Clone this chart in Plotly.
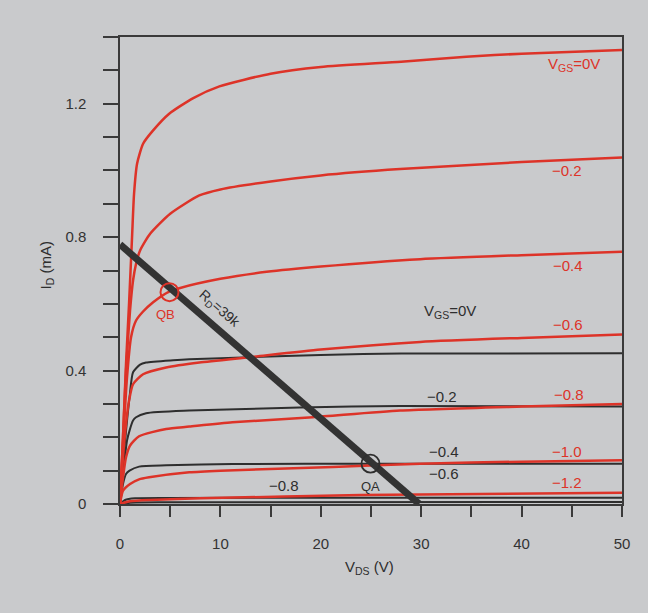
import plotly.graph_objects as go

# ---- data ----
red_0_v = [0, 0.3, 0.6, 0.9, 1.2, 1.4, 1.7, 2.3, 3.3, 4.9, 7.3, 9.9, 15, 20, 28, 34.5, 40, 50]
red_0_i = [0, 0.20, 0.42, 0.60, 0.80, 0.93, 1.02, 1.08, 1.12, 1.17, 1.217, 1.252, 1.29, 1.31, 1.326, 1.341, 1.35, 1.361]

red_m02_v = [0, 0.3, 0.6, 1.0, 1.3, 1.6, 2.0, 3.0, 5.0, 7.9, 10, 15, 20, 27.9, 40, 50]
red_m02_i = [0, 0.20, 0.40, 0.58, 0.67, 0.72, 0.76, 0.81, 0.87, 0.925, 0.943, 0.967, 0.985, 1.004, 1.025, 1.039]

red_m04_v = [0, 0.3, 0.7, 1.1, 1.6, 2.3, 3.3, 4.9, 5.9, 10, 14.6, 20, 29.9, 40, 50]
red_m04_i = [0, 0.18, 0.38, 0.50, 0.55, 0.577, 0.605, 0.637, 0.647, 0.675, 0.696, 0.712, 0.734, 0.746, 0.756]

red_m06_v = [0, 0.3, 0.6, 0.9, 1.3, 2.3, 4.6, 7.9, 12.9, 20, 29.9, 40, 50]
red_m06_i = [0, 0.14, 0.24, 0.31, 0.359, 0.389, 0.409, 0.424, 0.44, 0.463, 0.486, 0.498, 0.508]

red_m08_v = [0, 0.3, 0.6, 1.0, 1.9, 4.6, 6.9, 11.2, 19.2, 27.9, 40, 50]
red_m08_i = [0, 0.08, 0.14, 0.175, 0.203, 0.225, 0.232, 0.245, 0.26, 0.28, 0.292, 0.300]

red_m10_v = [0, 0.3, 1.0, 1.9, 2.9, 6.9, 10, 21.2, 29.9, 40, 50]
red_m10_i = [0, 0.04, 0.06, 0.074, 0.08, 0.095, 0.10, 0.111, 0.121, 0.127, 0.131]

red_m12_v = [0, 1, 3, 8, 24, 50]
red_m12_i = [0, 0.008, 0.012, 0.017, 0.027, 0.034]

blk_0_v = [0, 0.45, 0.95, 1.3, 2.0, 2.6, 5.3, 6.9, 12.9, 20, 28, 50]
blk_0_i = [0, 0.17, 0.32, 0.395, 0.418, 0.424, 0.431, 0.434, 0.44, 0.447, 0.451, 0.452]

blk_m02_v = [0, 0.3, 0.7, 0.95, 1.3, 1.6, 2.6, 6.9, 17.9, 27.9, 50]
blk_m02_i = [0, 0.09, 0.19, 0.22, 0.25, 0.26, 0.272, 0.28, 0.289, 0.294, 0.292]

blk_m04_v = [0, 0.3, 0.6, 0.95, 1.9, 4.6, 11.2, 25, 50]
blk_m04_i = [0, 0.06, 0.09, 0.10, 0.112, 0.116, 0.12, 0.121, 0.121]

blk_m06_v = [0, 0.5, 1.5, 5, 20, 50]
blk_m06_i = [0, 0.012, 0.017, 0.018, 0.019, 0.019]

blk_m08_v = [0, 1, 5, 50]
blk_m08_i = [0, 0.004, 0.005, 0.006]

load_v = [0, 29.8]
load_i = [0.778, 0]

qb_point = (4.93, 0.635)
qa_point = (24.95, 0.121)

x_tickvals = [0, 10, 20, 30, 40, 50]
x_ticktext = ["0", "10", "20", "30", "40", "50"]
y_tickvals = [0, 0.4, 0.8, 1.2]
y_ticktext = ["0", "0.4", "0.8", "1.2"]

# labels: (text, x, y)
red_labels = [("V<sub>GS</sub>=0V", 45.2, 1.318), ("\u22120.2", 44.5, 1.0), ("\u22120.4", 44.6, 0.714),
              ("\u22120.6", 44.6, 0.538), ("\u22120.8", 44.7, 0.327), ("\u22121.0", 44.5, 0.158),
              ("\u22121.2", 44.5, 0.065)]
blk_labels = [("V<sub>GS</sub>=0V", 32.9, 0.577), ("\u22120.2", 32.1, 0.321), ("\u22120.4", 32.3, 0.158),
              ("\u22120.6", 32.3, 0.092), ("\u22120.8", 16.3, 0.054)]

RED = "#dd3328"
BLK = "#2e2e2e"
BG = "#c9cacc"
FONT = "Liberation Sans"

fig = go.Figure()

for v, i in [(blk_0_v, blk_0_i), (blk_m02_v, blk_m02_i), (blk_m04_v, blk_m04_i),
             (blk_m06_v, blk_m06_i), (blk_m08_v, blk_m08_i)]:
    fig.add_trace(go.Scatter(x=v, y=i, mode="lines", line=dict(color=BLK, width=2, shape="spline", smoothing=0.6),
                             hoverinfo="skip", showlegend=False))

for v, i in [(red_0_v, red_0_i), (red_m02_v, red_m02_i), (red_m04_v, red_m04_i), (red_m06_v, red_m06_i),
             (red_m08_v, red_m08_i), (red_m10_v, red_m10_i), (red_m12_v, red_m12_i)]:
    fig.add_trace(go.Scatter(x=v, y=i, mode="lines", line=dict(color=RED, width=2.5, shape="spline", smoothing=0.6),
                             hoverinfo="skip", showlegend=False))

fig.add_trace(go.Scatter(x=load_v, y=load_i, mode="lines", line=dict(color="#333333", width=7),
                         hoverinfo="skip", showlegend=False))

fig.add_trace(go.Scatter(x=[qb_point[0]], y=[qb_point[1]], mode="markers",
                         marker=dict(symbol="circle-open", size=18, color=RED, line=dict(width=2, color=RED)),
                         hoverinfo="skip", showlegend=False))
fig.add_trace(go.Scatter(x=[qa_point[0]], y=[qa_point[1]], mode="markers",
                         marker=dict(symbol="circle-open", size=18, color=BLK, line=dict(width=1.8, color=BLK)),
                         hoverinfo="skip", showlegend=False))

for t, x, y in red_labels:
    fig.add_annotation(x=x, y=y, text=t, showarrow=False, font=dict(family=FONT, size=15, color=RED))
for t, x, y in blk_labels:
    fig.add_annotation(x=x, y=y, text=t, showarrow=False, font=dict(family=FONT, size=15, color=BLK))

fig.add_annotation(x=4.55, y=0.568, text="QB", showarrow=False, font=dict(family=FONT, size=13, color=RED))
fig.add_annotation(x=24.9, y=0.051, text="QA", showarrow=False, font=dict(family=FONT, size=13, color=BLK))
fig.add_annotation(x=9.9, y=0.585, text="R<sub>D</sub>=39k", textangle=41, showarrow=False,
                   font=dict(family=FONT, size=14, color=BLK))

fig.add_annotation(xref="paper", yref="paper", x=-0.146, y=0.51, xanchor="center", yanchor="middle",
                   text="I<sub>D</sub> (mA)", textangle=-90,
                   showarrow=False, font=dict(family=FONT, size=15, color=BLK))
fig.add_annotation(xref="paper", yref="paper", x=0.498, y=-0.137, xanchor="center", yanchor="middle",
                   text="V<sub>DS</sub> (V)",
                   showarrow=False, font=dict(family=FONT, size=15, color=BLK))

axis_common = dict(showgrid=False, zeroline=False, showline=True, linecolor="#3a3a3a", linewidth=1.5,
                   mirror=True, ticks="outside", tickcolor="#3a3a3a", tickwidth=1.5,
                   tickfont=dict(family=FONT, size=15, color="#333333"))

fig.update_xaxes(range=[0, 50], tickmode="array", tickvals=x_tickvals, ticktext=x_ticktext,
                 ticklen=11, ticklabelstandoff=14,
                 minor=dict(tick0=0, dtick=5, ticks="outside", ticklen=11, tickwidth=1.5,
                            tickcolor="#3a3a3a", showgrid=False),
                 **axis_common)
fig.update_yaxes(range=[0, 1.4], tickmode="array", tickvals=y_tickvals, ticktext=y_ticktext,
                 ticklen=15, ticklabelstandoff=14,
                 minor=dict(tick0=0, dtick=0.1, ticks="outside", ticklen=15, tickwidth=1.5,
                            tickcolor="#3a3a3a", showgrid=False),
                 **axis_common)

fig.update_layout(width=648, height=613, margin=dict(l=120, r=26, t=37, b=109),
                  paper_bgcolor=BG, plot_bgcolor=BG)

fig.write_html("out.html", config={"displayModeBar": False},
               post_script="document.body.style.margin='0px';document.body.style.overflow='hidden';"
                           "document.body.style.background='" + BG + "';")
